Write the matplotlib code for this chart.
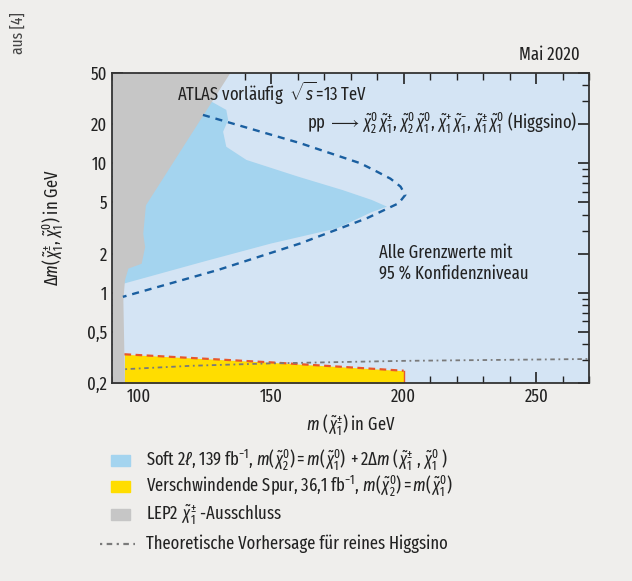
import matplotlib
matplotlib.use('Agg')
import matplotlib.pyplot as plt
from matplotlib.patches import Rectangle
from matplotlib.lines import Line2D
from matplotlib.ticker import FixedLocator, FuncFormatter, NullFormatter

FONT = 'Fira Sans Extra Condensed'
plt.rcParams['font.family'] = [FONT, 'DejaVu Sans']
plt.rcParams['mathtext.fontset'] = 'custom'
plt.rcParams['mathtext.rm'] = FONT
plt.rcParams['mathtext.it'] = FONT + ':italic'
plt.rcParams['mathtext.bf'] = FONT + ':bold'
plt.rcParams['mathtext.sf'] = FONT

# LEP2 exclusion boundary (mass, delta m)
lep_m = [134.4, 102.6, 101.6, 102.3, 101.0, 96.0, 94.7, 94.1, 94.7]
lep_dm = [50, 4.77, 2.88, 2.27, 1.69, 1.55, 1.26, 0.88, 0.2]

# soft 2l observed exclusion contour
obs_m = [90, 127.5, 133.1, 133.8, 131.9, 133.1, 140.7, 150, 160, 177, 188, 193.7,
         188, 175, 150, 125, 94.7, 90]
obs_dm = [29.9, 29.9, 25.8, 21.6, 17.5, 13.4, 10.6, 9.2, 7.9, 6.2, 5.2, 4.62,
          4.2, 3.15, 2.4, 1.75, 1.18, 1.18]

# soft 2l expected limit (dashed)
exp_m = [124.3, 160.9, 183.6, 188.7, 195, 198.8, 200.6, 198.1, 186.1, 160.9, 130, 94.1]
exp_dm = [23.6, 14.3, 10.0, 8.87, 7.6, 6.6, 5.69, 4.91, 3.76, 2.4, 1.5, 0.93]

# disappearing track exclusion
dt_m = [94.7, 150, 200]
dt_dm = [0.335, 0.29, 0.25]

# pure higgsino prediction
th_m = [95, 120, 150, 200, 270]
th_dm = [0.257, 0.273, 0.285, 0.298, 0.308]

bg = '#efeeec'
c_light = '#d4e4f4'
c_blue = '#a4d4ef'
c_gray = '#c6c6c6'
c_yellow = '#ffdd00'
c_text = '#222222'
fs = 13

fig = plt.figure(figsize=(6.32, 5.81), dpi=100, facecolor=bg)
ax = fig.add_axes([0.1772, 0.3403, 0.7553, 0.5346])
ax.set_facecolor(c_light)
ax.set_yscale('log')
ax.set_xlim(90, 270)
ax.set_ylim(0.2, 50)

ax.fill(obs_m, obs_dm, color=c_blue, lw=0, zorder=1)
ax.fill_betweenx(lep_dm, 90, lep_m, color=c_gray, lw=0, zorder=2)
ax.fill_between(dt_m, 0.2, dt_dm, color=c_yellow, lw=0, zorder=3)
ax.plot(dt_m, dt_dm, color='#e8572a', lw=1.6, ls=(0, (3, 2)), zorder=4)
ax.plot([dt_m[-1], dt_m[-1]], [0.2, dt_dm[-1]], color='#e8572a', lw=1.0, zorder=4)
ax.plot(exp_m, exp_dm, color='#1a5fa0', lw=1.7, ls=(0, (3, 2.5)), zorder=4)
ax.plot(th_m, th_dm, color='#7a7a7a', lw=1.3, ls=(0, (1, 2, 2.5, 2)), zorder=5)

ax.xaxis.set_major_locator(FixedLocator([100, 150, 200, 250]))
ax.xaxis.set_minor_locator(FixedLocator(list(range(90, 271, 10))))
ax.yaxis.set_major_locator(FixedLocator([0.2, 0.5, 1, 2, 5, 10, 20, 50]))
ax.yaxis.set_minor_locator(FixedLocator([0.3, 0.4, 0.6, 0.7, 0.8, 0.9, 3, 4, 6, 7, 8, 9, 30, 40]))
ax.yaxis.set_major_formatter(FuncFormatter(lambda v, p: ('%g' % v).replace('.', ',')))
ax.yaxis.set_minor_formatter(NullFormatter())
ax.tick_params(which='both', direction='in', top=True, right=True, labelsize=fs, colors=c_text)
ax.tick_params(which='major', length=8, width=1.2)
ax.tick_params(which='minor', length=5, width=1.0)
for s in ax.spines.values():
    s.set_linewidth(1.3)
    s.set_color('#333333')
    s.set_zorder(6)

chi_pm = r'\tilde{\chi}^{\pm}_{1}'
chi_01 = r'\tilde{\chi}^{0}_{1}'
chi_02 = r'\tilde{\chi}^{0}_{2}'

ax.set_xlabel(r'$m$ $(\,%s)$ in GeV' % chi_pm, fontsize=fs, labelpad=4, color=c_text)
ax.set_ylabel(r'$\Delta m(\,%s,\,%s)$ in GeV' % (chi_pm, chi_01), fontsize=fs,
              labelpad=15, color=c_text)

ax.text(0.136, 0.934, r'ATLAS vorläufig  $\sqrt{s}\!=\!13$ TeV', transform=ax.transAxes,
        fontsize=fs, ha='left', va='center', color=c_text, zorder=7)
ax.text(0.974, 0.838,
        r'pp $\longrightarrow\,%s\,%s,\,%s\,%s,\,\tilde{\chi}^{+}_{1}\,\tilde{\chi}^{-}_{1},\,%s\,%s$ (Higgsino)'
        % (chi_02, chi_pm, chi_02, chi_01, chi_pm, chi_01),
        transform=ax.transAxes, fontsize=fs, ha='right', va='center', color=c_text, zorder=7)
ax.text(0.559, 0.387, 'Alle Grenzwerte mit\n95 % Konfidenzniveau', transform=ax.transAxes,
        fontsize=fs, ha='left', va='center', linespacing=1.25, color=c_text, zorder=7)

fig.text(0.918, 0.905, 'Mai 2020', fontsize=fs, ha='right', va='center', color=c_text)
fig.text(18 / 632, 1 - 33 / 581, 'aus [4]', fontsize=12, rotation=90,
         ha='center', va='center', color='#444444')

# legend below the axes
labels = [r'Soft 2$\ell$, 139 fb$^{-1}$, $m(\,%s) = m(\,%s)\;+2\Delta m\;(\,%s\;,\,%s\;)$'
          % (chi_02, chi_01, chi_pm, chi_01),
          r'Verschwindende Spur, 36,1 fb$^{-1}$, $m(\,%s) = m(\,%s)$' % (chi_02, chi_01),
          r'LEP2 $\,%s$ -Ausschluss' % chi_pm,
          'Theoretische Vorhersage für reines Higgsino']
colors = [c_blue, c_yellow, c_gray, None]
rows_px = [460, 486, 514, 544]
W, H = 632.0, 581.0
for lab, col, yp in zip(labels, colors, rows_px):
    yf = 1 - yp / H
    if col is not None:
        fig.patches.append(Rectangle((111 / W, yf - 5.5 / H), 19 / W, 11 / H, color=col,
                                     transform=fig.transFigure, figure=fig))
    else:
        fig.lines.append(Line2D([100 / W, 135 / W], [yf, yf], color='#7a7a7a', lw=1.6,
                                ls=(0, (1, 2, 2.5, 2)), transform=fig.transFigure, figure=fig))
    fig.text(146 / W, yf, lab, fontsize=fs, ha='left', va='center', color=c_text)

fig.savefig('out.png', dpi=100, facecolor=bg)
